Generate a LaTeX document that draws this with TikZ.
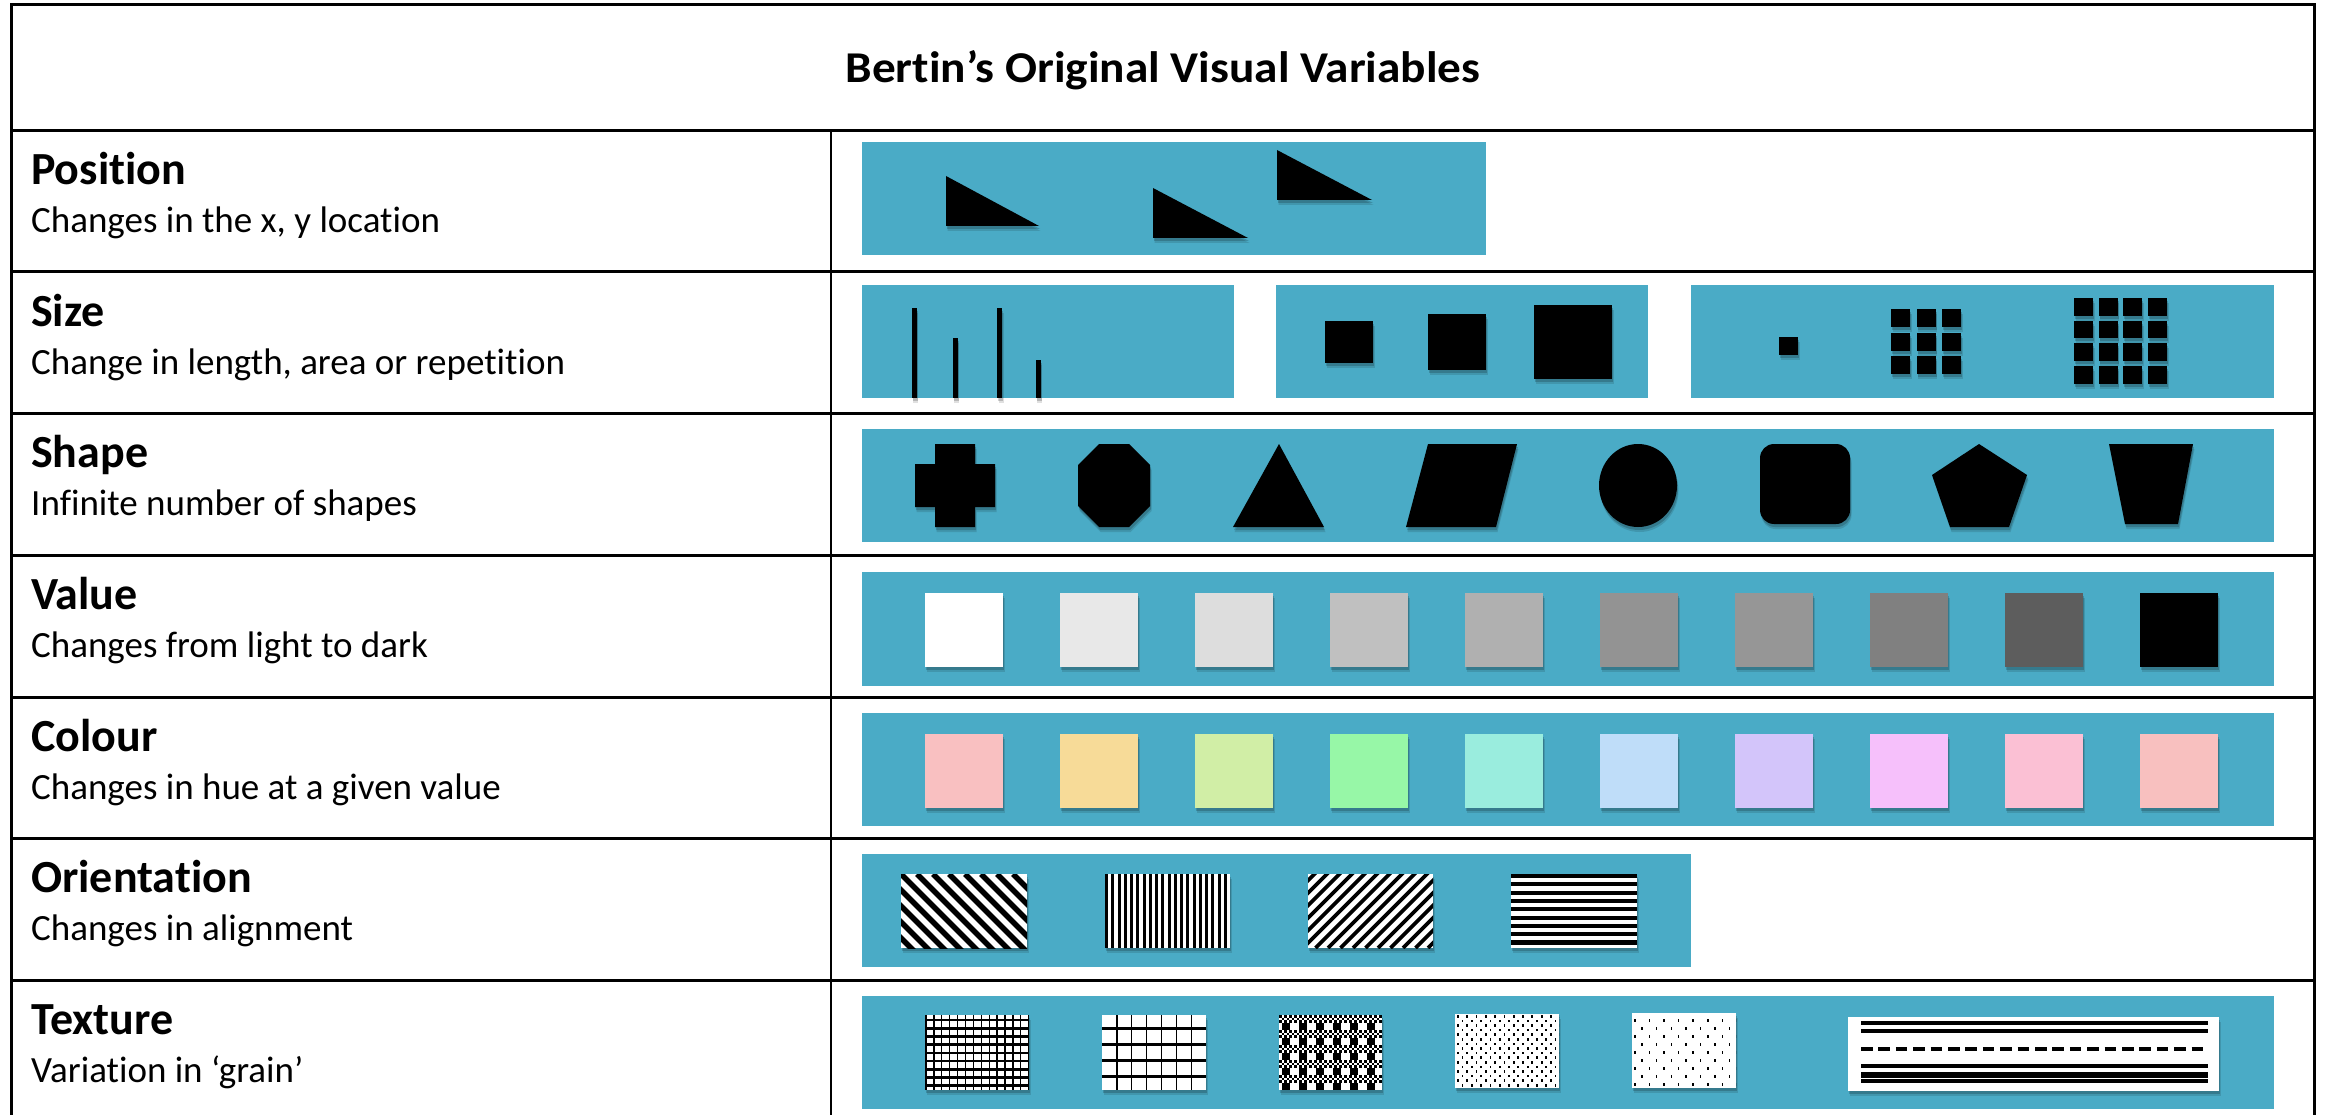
\documentclass[tikz,border=0pt]{standalone}
\usepackage{graphicx}
\usepackage{fontspec}
\setmainfont{Carlito}[Ligatures=NoCommon]
\usetikzlibrary{shadows}
\definecolor{bluebg}{HTML}{4AABC6}
\begin{document}
\begin{tikzpicture}[x=1pt,y=-1pt,
  bbox/.style={fill=bluebg},
  shad/.style={drop shadow={shadow xshift=1.5pt,shadow yshift=-5pt,opacity=0.12,fill=black},
               drop shadow={shadow xshift=1pt,shadow yshift=-3pt,opacity=0.18,fill=black}},
  rule/.style={line width=3pt,black},
  lbl/.style={anchor=base west,font=\fontsize{46}{50}\selectfont\bfseries,inner sep=0pt},
  sub/.style={anchor=base west,font=\fontsize{37}{42}\selectfont,inner sep=0pt}]
\useasboundingbox (0,0) rectangle (2325,1115);
\fill[white] (0,0) rectangle (2325,1115);
% ---------- table ----------
\draw[rule] (11,1115) -- (11,4.3) -- (2314,4.3) -- (2314,1115);
\foreach \yy in {131,272,413,555,697,838,980} \draw[rule] (11,\yy) -- (2314,\yy);
\draw[line width=2pt] (831,131) -- (831,1115);
\node[anchor=base,inner sep=0pt,font=\fontsize{44}{50}\selectfont\bfseries] (title) at (1163,83) {\scalebox{1.075}[1]{Bertin’s Original Visual Variables}};
% ---------- labels ----------
\foreach \top/\nm/\ds [count=\k] in {131/Position/{Changes in the x, y location},
   272/Size/{Change in length, area or repetition},
   413/Shape/{Infinite number of shapes},
   555/Value/{Changes from light to dark},
   697/Colour/{Changes in hue at a given value},
   838/Orientation/{Changes in alignment},
   980/Texture/{Variation in ‘grain’}}{
  \node[lbl] (lab\k) at (31,\top+54) {\nm};
  \node[sub] (desc\k) at (31,\top+102) {\ds};
}
% ---------- blue panels ----------
\fill[bbox] (862,142) rectangle (1486,255);
\fill[bbox] (862,285) rectangle (1234,398);
\fill[bbox] (1276,285) rectangle (1648,398);
\fill[bbox] (1691,285) rectangle (2274,398);
\fill[bbox] (862,429) rectangle (2274,542);
\fill[bbox] (862,572) rectangle (2274,686);
\fill[bbox] (862,713) rectangle (2274,826);
\fill[bbox] (862,854) rectangle (1691,967);
\fill[bbox] (862,996) rectangle (2274,1109);
% ---------- position ----------
\fill[shad] (946,176) -- (946,226) -- (1039,226) -- cycle;
\fill[shad] (1153,188) -- (1153,238) -- (1248,238) -- cycle;
\fill[shad] (1277,150) -- (1277,200) -- (1372,200) -- cycle;
% ---------- size ----------
\fill[shad] (911.5,308) rectangle (916.5,398);
\fill[shad] (952.5,338) rectangle (957.5,398);
\fill[shad] (997,308) rectangle (1002,398);
\fill[shad] (1035.5,360) rectangle (1040.5,398);
\fill[shad] (1325,321) rectangle (1373,363);
\fill[shad] (1428,314) rectangle (1486,370);
\fill[shad] (1534,305) rectangle (1612,379);
\fill[shad] (1779,337) rectangle (1798,355);
\foreach \i in {0,1,2} \foreach \j in {0,1,2}
  \fill[shad] (1891+\i*25.5,309+\j*23.5) rectangle ++(19,18);
\foreach \i in {0,...,3} \foreach \j in {0,...,3}
  \fill[shad] (2074+\i*24.67,298+\j*22.67) rectangle ++(19,17.7);
% ---------- shape ----------
\fill[shad] (935,444) -- (975,444) -- (975,464) -- (995,464) -- (995,507) -- (975,507)
  -- (975,527) -- (935,527) -- (935,507) -- (915,507) -- (915,464) -- (935,464) -- cycle;
\fill[shad] (1099,444) -- (1129,444) -- (1150,465) -- (1150,506) -- (1129,527) -- (1099,527)
  -- (1078,506) -- (1078,465) -- cycle;
\fill[shad] (1233,527) -- (1279,444) -- (1324,527) -- cycle;
\fill[shad] (1428,444) -- (1517,444) -- (1496,527) -- (1406,527) -- cycle;
\fill[shad] (1638,485.5) ellipse [x radius=39, y radius=41.5];
\fill[shad,rounded corners=14pt] (1760,444) rectangle (1850,524);
\fill[shad] (1979,444) -- (2027,475) -- (2009,527) -- (1950,527) -- (1932,475) -- cycle;
\fill[shad] (2109,444) -- (2193,444) -- (2178,524) -- (2125,524) -- cycle;
% ---------- value ----------
\foreach \c [count=\i from 0] in {FFFFFF,E8E8E8,DDDDDD,C0C0C0,B0B0B0,939393,969696,808080,5D5D5D,000000}{
  \definecolor{tmpc}{HTML}{\c}
  \fill[tmpc,shad] (925+135*\i,593) rectangle ++(78,74);
}
% ---------- colour ----------
\foreach \c [count=\i from 0] in {F9C0C1,F7DB98,D1EEA6,97F7A7,9AEDDE,BFDDF9,D3C5FA,F6C0FB,FBC0D4,F8C0BF}{
  \definecolor{tmpc}{HTML}{\c}
  \fill[tmpc,shad] (925+135*\i,734) rectangle ++(78,74);
}
% ---------- orientation ----------
\begin{scope}
  \fill[white,shad] (901,874) rectangle (1027,948);
  \clip (901,874) rectangle (1027,948);
  \foreach \c in {-80,-64,...,130} \draw[line width=5.6pt] (901+\c,874) -- ++(80,80);
\end{scope}
\fill[white,shad] (1105,874) rectangle (1230,948);
\foreach \i in {0,...,19} \fill (1105+\i*6.25,874) rectangle ++(3.1,74);
\begin{scope}
  \fill[white,shad] (1308,874) rectangle (1433,948);
  \clip (1308,874) rectangle (1433,948);
  \foreach \c in {-80,-67.5,...,130} \draw[line width=3.8pt] (1308+\c,948) -- ++(80,-80);
\end{scope}
\fill[white,shad] (1511,874) rectangle (1637,948);
\foreach \i in {0,...,8} \fill (1511,874+\i*8.3) rectangle ++(126,4.1);
% ---------- texture ----------
\begin{scope}
  \fill[white,shad] (925,1015) rectangle (1029,1090);
  \clip (925,1015) rectangle (1029,1090);
  \foreach \i in {0,...,13} \draw[line width=1.3pt] (926+\i*7.9,1015) -- ++(0,75);
  \foreach \j in {0,...,8} \draw[line width=2.6pt] (925,1020+\j*8.2) -- ++(104,0);
\end{scope}
\begin{scope}
  \fill[white,shad] (1102,1015) rectangle (1206,1090);
  \clip (1102,1015) rectangle (1206,1090);
  \foreach \i in {1,...,6} \draw[line width=1.3pt] (1102+\i*14.86,1015) -- ++(0,75);
  \foreach \yy in {1028,1044,1060,1076} \draw[line width=3pt] (1102,\yy) -- ++(104,0);
\end{scope}
\begin{scope}
  \fill[white,shad] (1279,1015) rectangle (1382,1090);
  \clip (1279,1015) rectangle (1382,1090);
  \foreach \b in {0,2,4,6,8}{
    \foreach \r in {0,1,2}{
      \pgfmathsetmacro{\ph}{mod(\r,2)*2.5}
      \draw[line width=2.5pt,dash pattern=on 2.5pt off 2.5pt,dash phase=\ph pt]
        (1279,1015+\b*7.5+1.25+\r*2.5) -- (1382,1015+\b*7.5+1.25+\r*2.5);
    }
  }
  \foreach \b in {1,3,5,7,9}
    \foreach \i in {0,...,5} \fill (1282+\i*17,1015+\b*7.5) rectangle ++(8,7.5);
\end{scope}
\begin{scope}
  \fill[white,shad] (1455,1014) rectangle (1559,1088);
  \clip (1455,1014) rectangle (1559,1088);
  \foreach \r in {0,...,15} \foreach \k in {0,...,11}{
    \pgfmathsetmacro{\off}{mod(\r,2)*4.6}
    \fill (1457+\k*9.3+\off,1015+\r*4.6) rectangle ++(1.8,2.5);
  }
\end{scope}
\begin{scope}
  \fill[white,shad] (1632,1013) rectangle (1736,1088);
  \clip (1632,1013) rectangle (1736,1088);
  \foreach \r in {0,...,8} \foreach \k in {0,...,7}{
    \pgfmathsetmacro{\off}{mod(\r,2)*7.3}
    \fill (1634+\k*14.6+\off,1019+\r*8) rectangle ++(1.5,3);
  }
\end{scope}
\fill[white,shad] (1848,1017) rectangle (2219,1091);
\foreach \yy/\w in {1022.7/4,1031/4,1066/4,1074.7/6,1081.3/4}
  \draw[line width=\w pt] (1861,\yy) -- (2208,\yy);
\draw[line width=4pt,dash pattern=on 11.6pt off 5.8pt] (1861,1049) -- (2208,1049);
\end{tikzpicture}
\end{document}
